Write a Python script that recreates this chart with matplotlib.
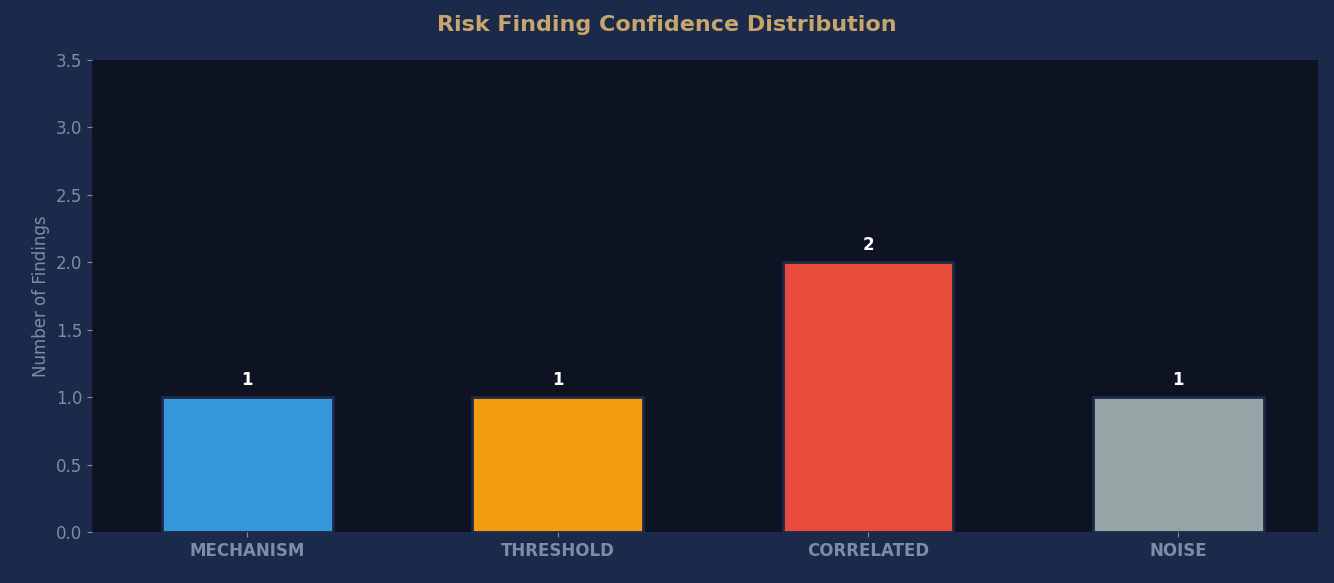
import matplotlib
matplotlib.use("Agg")
import matplotlib.pyplot as plt

categories = ["MECHANISM", "THRESHOLD", "CORRELATED", "NOISE"]
counts = [1, 1, 2, 1]
bar_colors = ["#3498db", "#f39c12", "#e74c3c", "#95a5a6"]

FIG_BG = "#1b2a4a"
AX_BG = "#0d1320"
MUTED = "#7f8ca3"

fig = plt.figure(figsize=(13.34, 5.83), dpi=100, facecolor=FIG_BG)
ax = fig.add_axes([92 / 1334, 51 / 583, 1226 / 1334, 472 / 583], facecolor=AX_BG)

x = range(len(categories))
bars = ax.bar(x, counts, width=0.55, color=bar_colors, edgecolor=FIG_BG, linewidth=2)
for b, v in zip(bars, counts):
    ax.text(b.get_x() + b.get_width() / 2, v + 0.06, str(v), ha="center", va="bottom",
            color="white", fontsize=12, fontweight="bold")

ax.set_xticks(list(x))
ax.set_xticklabels(categories, color="white", fontsize=12, fontweight="bold")
ax.set_ylim(0, 3.5)
ax.set_xlim(-0.5, 3.45)
ax.set_yticks([0, 0.5, 1.0, 1.5, 2.0, 2.5, 3.0, 3.5])
ax.tick_params(axis="y", colors=MUTED, labelsize=12)
ax.tick_params(axis="x", colors=MUTED)
ax.set_ylabel("Number of Findings", color=MUTED, fontsize=12)
for s in ax.spines.values():
    s.set_visible(False)
fig.suptitle("Risk Finding Confidence Distribution", color="#c8a56a", fontsize=16,
             fontweight="bold", y=0.975)

fig.savefig("out.png", dpi=100, facecolor=FIG_BG)
